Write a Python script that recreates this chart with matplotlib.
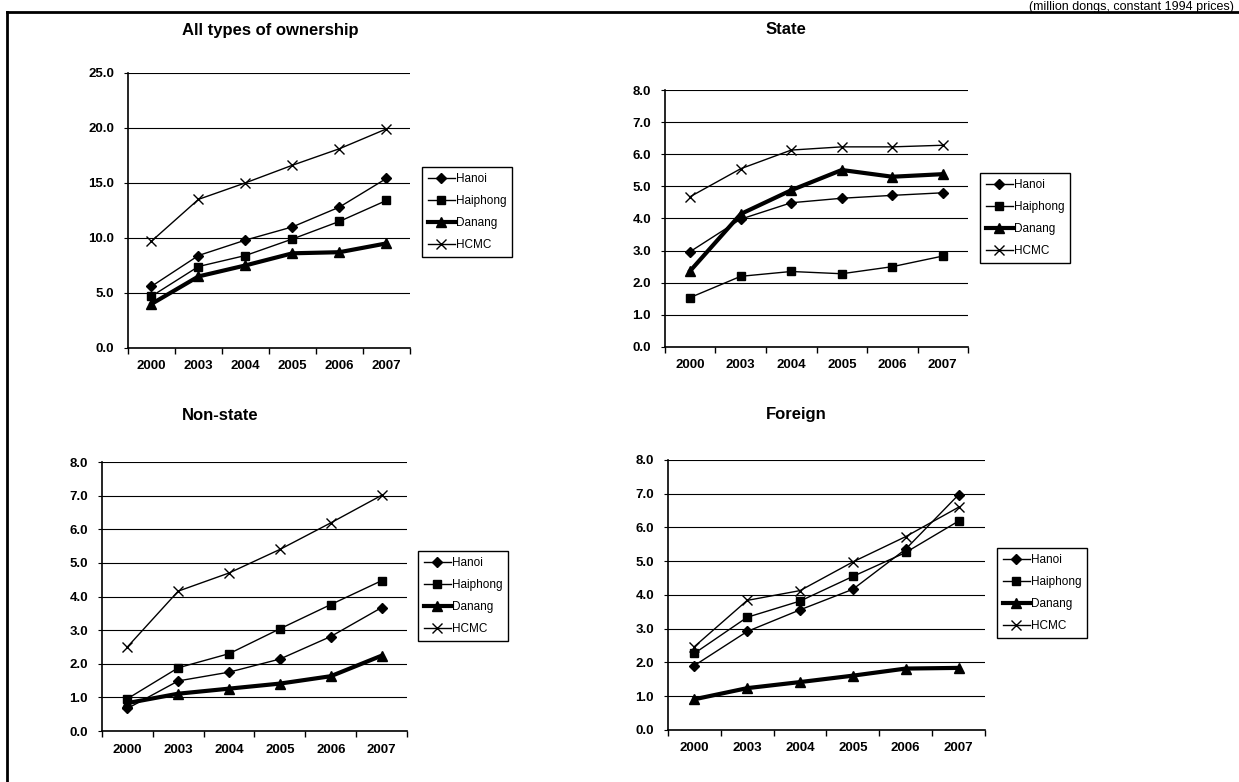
import numpy as np
import matplotlib.pyplot as plt
from matplotlib.lines import Line2D

plt.rcParams['font.family'] = ['Liberation Sans', 'DejaVu Sans']

years = ['2000', '2003', '2004', '2005', '2006', '2007']
cities = ['Hanoi', 'Haiphong', 'Danang', 'HCMC']

# All types of ownership
all_hanoi = [5.6, 8.4, 9.8, 11.0, 12.8, 15.4]
all_haiphong = [4.7, 7.4, 8.4, 9.9, 11.5, 13.4]
all_danang = [4.0, 6.5, 7.5, 8.6, 8.7, 9.5]
all_hcmc = [9.7, 13.5, 15.0, 16.6, 18.1, 19.9]

# State
state_hanoi = [2.97, 3.98, 4.49, 4.63, 4.72, 4.80]
state_haiphong = [1.54, 2.20, 2.35, 2.28, 2.50, 2.83]
state_danang = [2.37, 4.14, 4.88, 5.51, 5.30, 5.38]
state_hcmc = [4.68, 5.55, 6.13, 6.23, 6.23, 6.28]

# Non-state
nonstate_hanoi = [0.67, 1.49, 1.75, 2.14, 2.81, 3.67]
nonstate_haiphong = [0.96, 1.88, 2.30, 3.04, 3.76, 4.47]
nonstate_danang = [0.83, 1.11, 1.26, 1.41, 1.63, 2.24]
nonstate_hcmc = [2.50, 4.16, 4.70, 5.40, 6.19, 7.01]

# Foreign
foreign_hanoi = [1.91, 2.92, 3.56, 4.17, 5.36, 6.97]
foreign_haiphong = [2.27, 3.34, 3.82, 4.55, 5.26, 6.19]
foreign_danang = [0.91, 1.24, 1.42, 1.61, 1.82, 1.84]
foreign_hcmc = [2.47, 3.84, 4.13, 4.98, 5.73, 6.60]

# title, series, ymax, step, axes rect, title pos (px), legend corner (px)
panels = [
    ('All types of ownership', [all_hanoi, all_haiphong, all_danang, all_hcmc], 25.0, 5.0,
     [0.1033, 0.5550, 0.2276, 0.3520], (270, 30), (422, 167)),
    ('State', [state_hanoi, state_haiphong, state_danang, state_hcmc], 8.0, 1.0,
     [0.5367, 0.5563, 0.2446, 0.3286], (786, 30), (980, 173)),
    ('Non-state', [nonstate_hanoi, nonstate_haiphong, nonstate_danang, nonstate_hcmc], 8.0, 1.0,
     [0.0823, 0.0652, 0.2462, 0.3440], (220, 415), (418, 551)),
    ('Foreign', [foreign_hanoi, foreign_haiphong, foreign_danang, foreign_hcmc], 8.0, 1.0,
     [0.5391, 0.0665, 0.2559, 0.3453], (796, 415), (997, 548)),
]

styles = [
    dict(marker='D', markersize=5, lw=1.0),
    dict(marker='s', markersize=5.5, lw=1.0),
    dict(marker='^', markersize=7, lw=3.0),
    dict(marker='x', markersize=7, lw=1.0, markeredgewidth=1.0),
]

W, H = 1239, 782
fig = plt.figure(figsize=(W / 100, H / 100), dpi=100)

# outer frame and unit note
fig.add_artist(Line2D([7 / W, 1], [1 - 12 / H, 1 - 12 / H], color='black', lw=2))
fig.add_artist(Line2D([7 / W, 7 / W], [0, 1 - 12 / H], color='black', lw=2))
fig.text(1234 / W, 1 - 1 / H, '(million dongs, constant 1994 prices)', ha='right', va='top',
         fontsize=9)

x = np.arange(len(years))
for title, series, ymax, step, pos, tpos, lpos in panels:
    ax = fig.add_axes(pos)
    for vals, name, st in zip(series, cities, styles):
        ax.plot(x, vals, color='black', label=name, **st)
    ax.set_xlim(-0.5, len(years) - 0.5)
    ax.set_ylim(0, ymax)
    yt = np.arange(0, ymax + step / 2, step)
    ax.set_yticks(yt)
    ax.set_yticklabels([f'{v:.1f}' for v in yt])
    ax.yaxis.grid(True, color='black', lw=0.8)
    ax.set_axisbelow(True)
    # tick marks between categories, labels at category centres
    ax.set_xticks(np.arange(-0.5, len(years)))
    ax.set_xticklabels([])
    ax.set_xticks(x, minor=True)
    ax.set_xticklabels(years, minor=True)
    ax.tick_params(axis='x', which='major', direction='out', length=4, width=1)
    ax.tick_params(axis='x', which='minor', length=0, pad=9, labelsize=9.5)
    ax.tick_params(axis='y', direction='out', length=3, pad=7, labelsize=9.5)
    for lab in ax.get_xticklabels(minor=True) + ax.get_yticklabels():
        lab.set_fontweight('bold')
    ax.spines['right'].set_visible(False)
    ax.spines['top'].set_visible(False)
    ax.spines['left'].set_linewidth(1.2)
    ax.spines['bottom'].set_linewidth(1.2)
    fig.text(tpos[0] / W, 1 - tpos[1] / H, title, ha='center', va='center',
             fontsize=12, fontweight='bold')
    leg = ax.legend(loc='upper left', bbox_to_anchor=(lpos[0] / W, 1 - lpos[1] / H),
                    bbox_transform=fig.transFigure, borderaxespad=0, fancybox=False,
                    edgecolor='black', fontsize=8.5, handlelength=2.3, handletextpad=0.05,
                    labelspacing=0.85, borderpad=0.5, framealpha=1)
    leg.get_frame().set_linewidth(1.0)

fig.savefig('out.png', dpi=100)
